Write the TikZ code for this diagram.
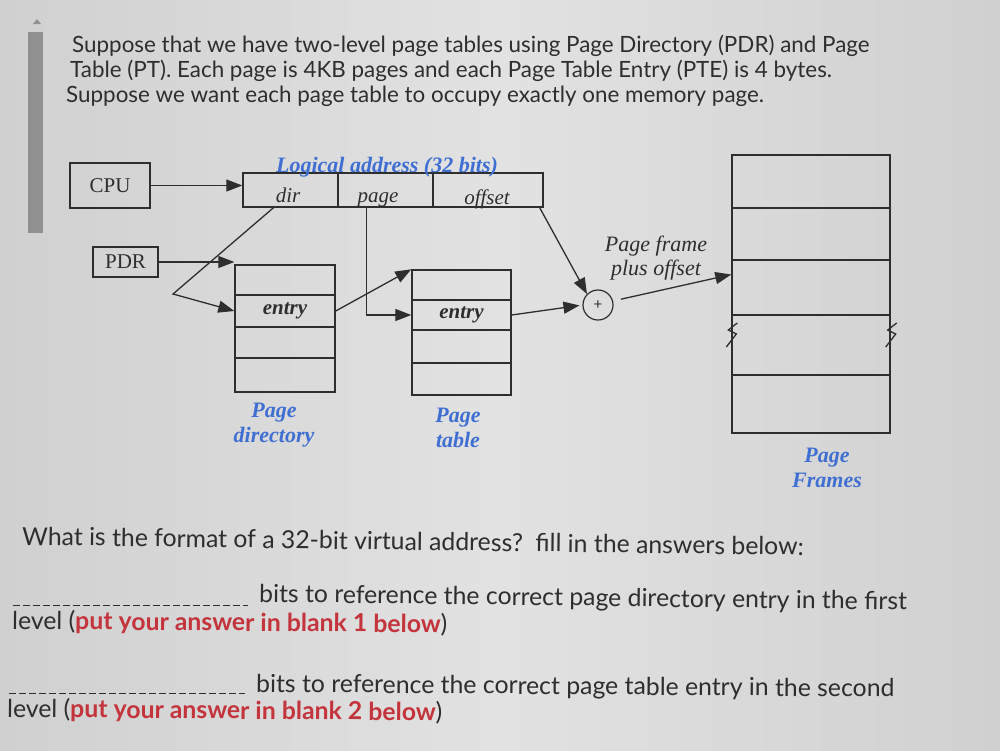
\documentclass[tikz,border=0pt]{standalone}
\usepackage{fontspec}
\setmainfont{Lato}
\newfontfamily\tms{Liberation Serif}
\usetikzlibrary{arrows.meta}
\definecolor{bgc}{HTML}{E2E2E2}
\definecolor{bgd}{HTML}{D0D0D0}
\definecolor{ink}{HTML}{2E2E2E}
\definecolor{txt}{HTML}{2E2E2E}
\definecolor{blu}{HTML}{3F6FD2}
\definecolor{redt}{HTML}{C4343C}
\definecolor{barc}{HTML}{909090}
\begin{document}
\begin{tikzpicture}[x=1pt,y=-1pt,
  lbox/.style={draw=ink, line width=1.4pt, inner sep=0pt, text=ink, font=\tms\fontsize{21}{21}\selectfont},
  cell/.style={draw=ink, line width=1.4pt, inner sep=0pt, text=ink, font=\tms\bfseries\itshape\fontsize{21}{21}\selectfont},
  itl/.style={text=ink, inner sep=0pt, font=\tms\itshape\fontsize{21}{21}\selectfont},
  blab/.style={text=blu, align=center, inner sep=0pt, font=\tms\bfseries\itshape\fontsize{22}{25}\selectfont},
  arr/.style={draw=ink, line width=1.3pt, -{Triangle[length=16pt,width=12pt]}},
  para/.style={text=txt, anchor=base west, inner sep=0pt, font=\fontsize{22.4}{22.4}\selectfont},
  big/.style={text=txt, anchor=base west, inner sep=0pt, font=\fontsize{24.8}{24.8}\selectfont},
  brk/.style={draw=ink, line width=1.3pt},
  blank/.style={draw=txt, line width=1pt, dash pattern=on 7pt off 3pt}
]
% background
\path[use as bounding box] (0,0) rectangle (1000,750);
\shade[left color=bgd, right color=bgd, middle color=bgc] (0,0) rectangle (1000,750);
% scroll bar
\fill[barc] (28,32) rectangle (43,233);
\fill[barc] (33,24) -- (41,24) -- (37,19) -- cycle;

% top paragraph
\node[para] (t1) at (72,52) {Suppose that we have two-level page tables using Page Directory (PDR) and Page};
\node[para] (t2) at (70,77) {Table (PT). Each page is 4KB pages and each Page Table Entry (PTE) is 4 bytes.};
\node[para] (t3) at (66,102) {Suppose we want each page table to occupy exactly one memory page.};

% CPU and logical address
\node[lbox, minimum width=80pt, minimum height=45pt] (cpu) at (110,185.5) {CPU};
\node[lbox, minimum width=95pt, minimum height=34pt] (f1) at (290.5,190) {};
\node[lbox, minimum width=95pt, minimum height=34pt] (f2) at (385.5,190) {};
\node[lbox, minimum width=110pt, minimum height=34pt] (f3) at (488,190) {};
\node[itl, anchor=base] (dirt) at (288,202) {dir};
\node[itl, anchor=base] (paget) at (378,202) {page};
\node[itl, anchor=base] (offt) at (487,204) {offset};
\node[blab, anchor=base] (lat) at (387,172) {Logical address (32 bits)};

% PDR
\node[lbox, minimum width=65pt, minimum height=30pt] (pdr) at (125.5,262) {PDR};

% page directory
\node[cell, minimum width=100pt, minimum height=30pt] (pd1) at (285,280) {};
\node[cell, minimum width=100pt, minimum height=32pt] (pd2) at (285,311) {entry};
\node[cell, minimum width=100pt, minimum height=31pt] (pd3) at (285,342.5) {};
\node[cell, minimum width=100pt, minimum height=34pt] (pd4) at (285,375) {};
\node[blab] (pdl) at (274,425) {Page\\directory};

% page table
\node[cell, minimum width=99pt, minimum height=30pt] (pt1) at (461.5,285) {};
\node[cell, minimum width=99pt, minimum height=30pt] (pt2) at (461.5,315) {entry};
\node[cell, minimum width=99pt, minimum height=33pt] (pt3) at (461.5,346.5) {};
\node[cell, minimum width=99pt, minimum height=32pt] (pt4) at (461.5,379) {};
\node[blab] (ptl) at (458,428) {Page\\table};

% adder
\node[draw=ink, line width=1.2pt, circle, minimum size=30pt, inner sep=0pt, text=ink, font=\fontsize{15}{15}\selectfont] (plus) at (598,305) {\raisebox{-2pt}{+}};
\node[itl, align=center, font=\tms\itshape\fontsize{22}{24}\selectfont] (pfo) at (656,258) {Page frame\\plus offset};

% page frames
\node[lbox, minimum width=158pt, minimum height=53pt] (fr1) at (811,181.5) {};
\node[lbox, minimum width=158pt, minimum height=52pt] (fr2) at (811,234) {};
\node[lbox, minimum width=158pt, minimum height=55pt] (fr3) at (811,287.5) {};
\node[lbox, minimum width=158pt, minimum height=60pt] (fr4) at (811,345) {};
\node[lbox, minimum width=158pt, minimum height=58pt] (fr5) at (811,404) {};
\node[blab] (frl) at (827,468) {Page\\Frames};
\draw[brk] ([xshift=6pt,yshift=22pt]fr4.west) -- ++(-9,7) -- ++(8,4) -- ++(-10,13);
\draw[brk] ([xshift=6pt,yshift=22pt]fr4.east) -- ++(-9,7) -- ++(8,4) -- ++(-10,13);

% connectors
\coordinate (bend) at (173,294);
\draw[arr] (cpu.east) -- (cpu.east -| f1.west);
\draw[arr] (pdr.east) -- (pdr.east -| pd1.west);
\draw[arr] ([xshift=-17pt]f1.south) -- (bend) -- (pd2.west);
\draw[arr] (pd2.east) -- (pt1.north west);
\draw[arr] ([xshift=-19pt]f2.south) |- (pt2.west);
\draw[arr, shorten >=3pt] (pt2.east) -- (plus.west);
\draw[arr] ([xshift=-4pt]f3.south east) -- (plus.north west);
\draw[arr, shorten <=8pt] (plus.15) -- ([yshift=13pt]fr3.west);

% question text
\node[big, rotate=-0.75] (q) at (22,545) {What is the format of a 32-bit virtual address?\enspace fill in the answers below:};
\coordinate (b1s) at (13,605);
\coordinate (b1e) at (248,605);
\draw[blank] (b1s) -- (b1e);
\node[big, rotate=-0.7] (q1) at (259,602) {bits to reference the correct page directory entry in the first};
\node[big, rotate=-0.5] (q1b) at (12,629) {level (\textcolor{redt}{\bfseries put your answer in blank 1 below})};
\coordinate (b2s) at (9,693);
\coordinate (b2e) at (245,693);
\draw[blank] (b2s) -- (b2e);
\node[big, rotate=-0.45] (q2) at (256,692) {bits to reference the correct page table entry in the second};
\node[big, rotate=-0.5] (q2b) at (7,717) {level (\textcolor{redt}{\bfseries put your answer in blank 2 below})};
\end{tikzpicture}
\end{document}
